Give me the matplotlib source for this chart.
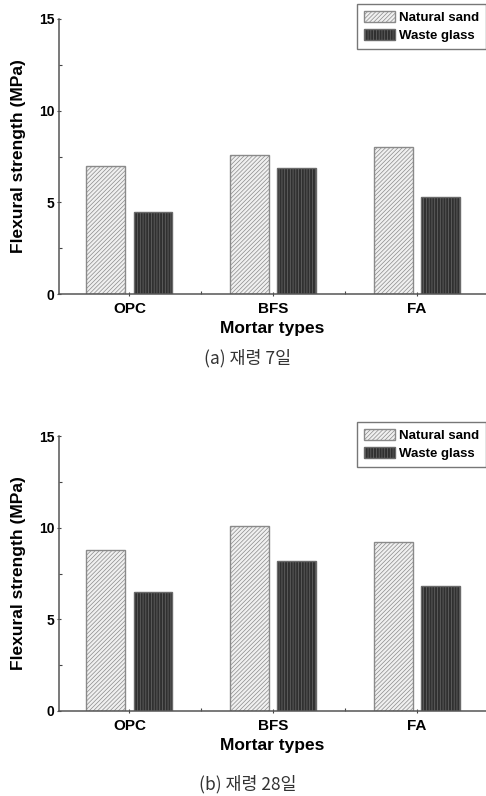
import numpy as np
import matplotlib.pyplot as plt
from matplotlib.patches import Patch

categories = ['OPC', 'BFS', 'FA']
series_names = ['Natural sand', 'Waste glass']
day7_natural = [7.0, 7.6, 8.0]
day7_glass = [4.5, 6.9, 5.3]
day28_natural = [8.8, 10.1, 9.2]
day28_glass = [6.5, 8.2, 6.8]
captions = ['(a) 재령 7일', '(b) 재령 28일']

plt.rcParams['hatch.linewidth'] = 0.5
W, H = 486, 796
fig = plt.figure(figsize=(W / 100, H / 100), dpi=100)

ns_style = dict(facecolor='#f0f0f0', edgecolor='#8a8a8a', hatch='////////', linewidth=1.0)
wg_style = dict(facecolor='#303030', edgecolor='#6a6a6a', hatch='||||||', linewidth=1.0)

def draw_panel(rect, natural, glass, caption, cap_y, leg_top):
    ax = fig.add_axes(rect)
    x = np.arange(len(categories))
    w = 0.27
    ax.bar(x - 0.164, natural, w, **ns_style)
    ax.bar(x + 0.164, glass, w, **wg_style)
    ax.set_xlim(-0.49, 2.48)
    ax.set_ylim(0, 15)
    ax.set_yticks([0, 5, 10, 15])
    ax.set_yticks([2.5, 7.5, 12.5], minor=True)
    ax.set_xticks(x)
    ax.set_xticks([0.5, 1.5], minor=True)
    ax.set_xticklabels(categories, fontsize=11, fontweight='bold', family='Liberation Sans')
    for lab in ax.get_yticklabels():
        lab.set_fontsize(10)
        lab.set_fontweight('bold')
        lab.set_family('Liberation Sans')
    ax.tick_params(which='major', direction='inout', length=3, width=0.8, color='#444444', pad=2)
    ax.tick_params(axis='x', which='major', pad=4)
    ax.tick_params(which='minor', direction='in', length=2.5, width=0.8, color='#444444')
    for s in ['top', 'right']:
        ax.spines[s].set_visible(False)
    for s in ['left', 'bottom']:
        ax.spines[s].set_color('#555555')
        ax.spines[s].set_linewidth(1.1)
    ax.set_xlabel('Mortar types', fontsize=12.5, fontweight='bold', family='Liberation Sans', labelpad=4)
    ax.set_ylabel('Flexural strength (MPa)', fontsize=12.5, fontweight='bold', family='Liberation Sans')
    ax.yaxis.set_label_coords(-0.077, 0.5)
    handles = [Patch(**ns_style, label=series_names[0]), Patch(**wg_style, label=series_names[1])]
    leg = fig.legend(handles=handles, loc='upper left',
                     bbox_to_anchor=(357 / W, 1 - leg_top / H),
                     prop={'family': 'Liberation Sans', 'weight': 'bold', 'size': 9.5},
                     frameon=True, fancybox=False, edgecolor='#555555',
                     handlelength=2.4, handleheight=1.0, handletextpad=0.3,
                     labelspacing=0.35, borderpad=0.5, borderaxespad=0)
    leg.get_frame().set_linewidth(1.0)
    fig.text(0.51, 1 - cap_y / H, caption, ha='center', va='center', fontsize=12.5,
             family=['Noto Sans CJK KR', 'DejaVu Sans'], color='#333333')
    return ax

draw_panel([59 / W, 1 - 294 / H, 1 - 59 / W, 275 / H], day7_natural, day7_glass, captions[0], 358, 4)
draw_panel([59 / W, 1 - 711 / H, 1 - 59 / W, 275 / H], day28_natural, day28_glass, captions[1], 784, 422)

fig.savefig('out.png', dpi=100)
